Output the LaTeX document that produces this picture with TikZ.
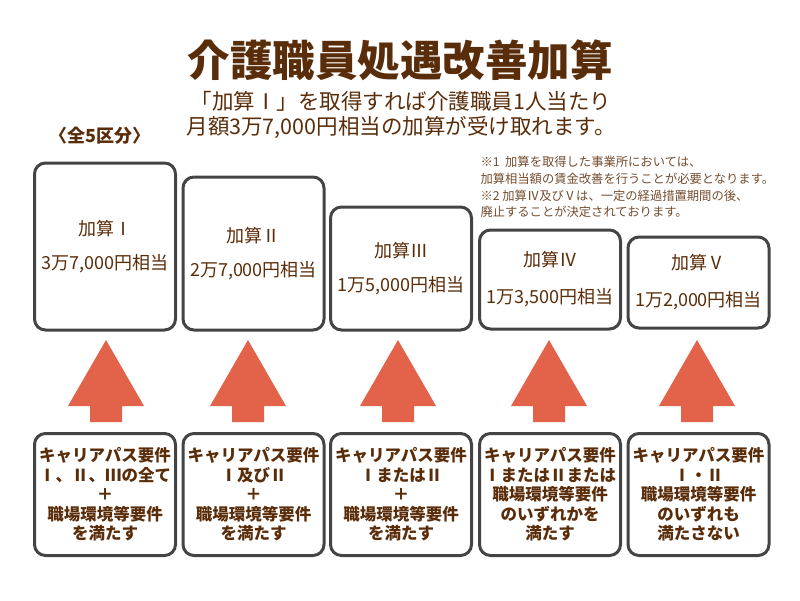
\documentclass[tikz,border=0pt]{standalone}
\usepackage{fontspec}
\setmainfont{Noto Sans CJK JP}
\definecolor{brown}{RGB}{90,45,10}
\definecolor{boxgrey}{RGB}{68,68,68}
\definecolor{arrowred}{RGB}{226,98,74}

\begin{document}
\begin{tikzpicture}[x=1pt, y=-1pt,
  kasan/.style={draw=boxgrey, line width=3pt, rounded corners=11pt, minimum width=141pt,
    anchor=south, align=center, text=brown, inner sep=0pt, font=\fontsize{18}{34}\selectfont},
  youken/.style={draw=boxgrey, line width=3pt, rounded corners=11pt, minimum width=141pt,
    minimum height=122pt, align=center, text=brown, inner sep=0pt,
    font=\bfseries\fontsize{16.5}{19.5}\selectfont}]

\useasboundingbox (0,0) rectangle (800,600);

\node[text=brown, font=\bfseries\fontsize{42.5}{48}\selectfont] (title) at (400,60) {介護職員処遇改善加算};
\node[text=brown, align=center, font=\fontsize{21.5}{25}\selectfont] (lead) at (401,115)
  {「加算Ⅰ」を取得すれば介護職員1人当たり\\月額3万7,000円相当の加算が受け取れます。};
\node[text=brown, font=\bfseries\fontsize{18}{20}\selectfont] (kubun) at (100,136) {〈全5区分〉};
\node[text=brown!85, anchor=west, align=left, font=\fontsize{12.3}{16.7}\selectfont] (note) at (477,187)
  {※1\ \ 加算を取得した事業所においては、\\加算相当額の賃金改善を行うことが必要となります。\\
   ※2\ 加算Ⅳ及びⅤは、一定の経過措置期間の後、\\廃止することが決定されております。};

\node[kasan, minimum height=167pt] (kasan1) at (105,331.5)   {加算Ⅰ\\3万7,000円相当};
\node[kasan, minimum height=153pt] (kasan2) at (253.5,331.5) {加算Ⅱ\\2万7,000円相当};
\node[kasan, minimum height=123pt] (kasan3) at (401,331.5)   {加算Ⅲ\\1万5,000円相当};
\node[kasan, minimum height=99pt]  (kasan4) at (550,330.5)   {加算Ⅳ\\[3pt]1万3,500円相当};
\node[kasan, minimum height=91pt]  (kasan5) at (698.5,329.5) {加算Ⅴ\\[3pt]1万2,000円相当};

\foreach \x in {106,248,398,549,697}
  \path[fill=arrowred] (\x,340) -- (\x+38,406) -- (\x+16,406) -- (\x+16,422)
    -- (\x-16,422) -- (\x-16,406) -- (\x-38,406) -- cycle;

\node[youken] (youken1) at (105,494.5)   {キャリアパス要件\\Ⅰ、Ⅱ、Ⅲの全て\\＋\\職場環境等要件\\を満たす};
\node[youken] (youken2) at (253.5,494.5) {キャリアパス要件\\Ⅰ及びⅡ\\＋\\職場環境等要件\\を満たす};
\node[youken] (youken3) at (401,494.5)   {キャリアパス要件\\ⅠまたはⅡ\\＋\\職場環境等要件\\を満たす};
\node[youken] (youken4) at (550,494.5)   {キャリアパス要件\\ⅠまたはⅡまたは\\職場環境等要件\\のいずれかを\\満たす};
\node[youken] (youken5) at (698.5,494.5) {キャリアパス要件\\Ⅰ・Ⅱ\\職場環境等要件\\のいずれも\\満たさない};

\end{tikzpicture}
\end{document}
